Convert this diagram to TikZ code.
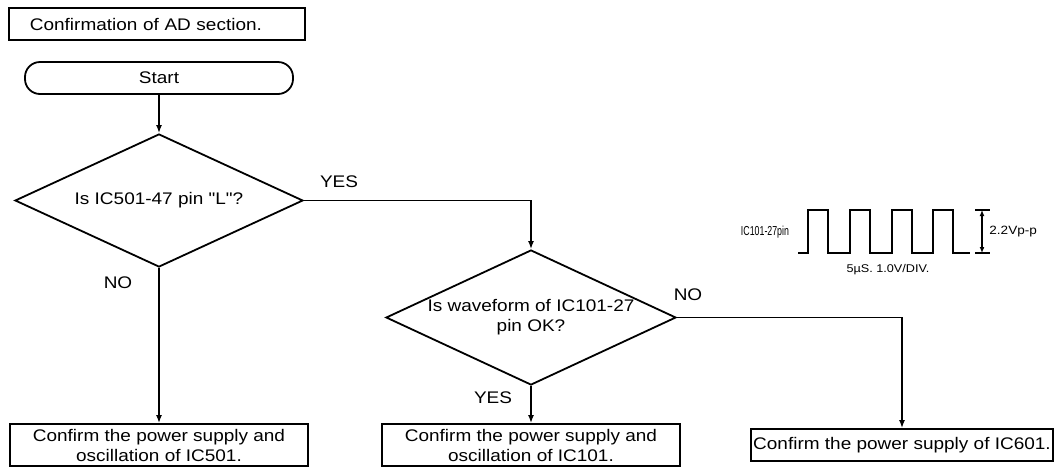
\documentclass[tikz,border=0pt]{standalone}
\usepackage{fontspec}
\setmainfont{Liberation Sans}[FakeStretch=1.13]
\newfontfamily\plainqfont{Liberation Sans}[FakeStretch=1.13]
\usepackage{graphicx}
\usepackage{tikz}
\usetikzlibrary{arrows.meta,shapes.geometric,positioning}

\begin{document}
\begin{tikzpicture}[x=0.5pt,y=-0.5pt,
  font=\fontsize{8.4pt}{10pt}\selectfont,
  chkbox/.style={draw, line width=0.9pt, align=center, inner sep=0pt},
  term/.style={draw, line width=0.9pt, rounded corners=7.5pt, minimum width=134pt, minimum height=16pt, inner sep=0pt},
  decision/.style={draw, diamond, aspect=2.16, line width=0.9pt, inner sep=0pt, align=center},
  arr/.style={line width=0.9pt, -{Latex[length=4pt,width=3pt]}},
  lbl/.style={inner sep=0pt},
  wave/.style={line width=0.8pt},
]
\useasboundingbox (0,0) rectangle (1057,467);

\node[chkbox, anchor=west, minimum height=16pt, text width=127pt, align=left, inner xsep=10.5pt] (title) at (8,24) {Confirmation of AD section.};
\node[term] (start) at (159,78) {Start};
\node[decision, minimum width=144pt, minimum height=66.5pt] (d1) at (159,200.5) {\plainqfont Is IC501-47 pin "L"?};
\node[decision, minimum width=145pt, minimum height=67.5pt] (d2) at (531,317.5) {Is waveform of IC101-27\\pin OK?};
\node[chkbox, minimum width=149pt, minimum height=21pt] (r1) at (159,445) {Confirm the power supply and\\oscillation of IC501.};
\node[chkbox, minimum width=149pt, minimum height=21pt] (r2) at (531,445) {Confirm the power supply and\\oscillation of IC101.};
\node[chkbox, minimum width=151pt, minimum height=16pt] (r3) at (902,445) {Confirm the power supply of IC601.};

\draw[arr] (start) -- (d1);
\draw[arr] (d1.east) -| (d2.north);
\draw[arr] (d1) -- (r1);
\draw[arr] (d2) -- (r2);
\draw[arr] (d2.east) -| (r3.north);

\node[lbl] (y1) at (339,182) {YES};
\node[lbl] (n1) at (118,283) {NO};
\node[lbl] (y2) at (493,398) {YES};
\node[lbl] (n2) at (688,295) {NO};

% waveform
\draw[wave] (798,253) -- (808,253) -- (808,210) -- (828,210) -- (828,253)
  -- (850,253) -- (850,210) -- (870,210) -- (870,253)
  -- (892,253) -- (892,210) -- (912,210) -- (912,253)
  -- (933,253) -- (933,210) -- (953,210) -- (953,253) -- (970,253);
\draw[line width=0.6pt] (975,210) -- (990,210) (975,253) -- (990,253);
\coordinate (vtop) at (982,210);
\coordinate (vbot) at (982,253);
\draw[line width=0.6pt, {Latex[length=3pt,width=2.5pt]}-{Latex[length=3pt,width=2.5pt]}] (vtop) -- (vbot);
\node[lbl] (pin) at (765,232) {\scalebox{0.6}[1]{\fontsize{6.5pt}{7pt}\selectfont IC101-27pin}};
\node[lbl, anchor=west, font=\fontsize{6pt}{7pt}\selectfont] (vpp) at (989,232) {2.2Vp-p};
\node[lbl, font=\fontsize{5.6pt}{6pt}\selectfont] (div) at (888,270) {5µS. 1.0V/DIV.};
\end{tikzpicture}
\end{document}
